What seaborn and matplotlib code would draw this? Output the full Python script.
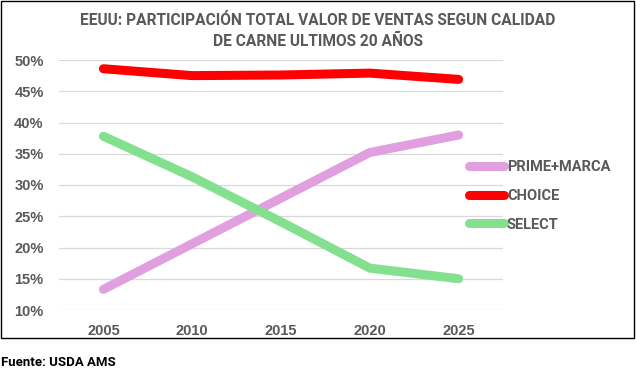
import pandas as pd
import seaborn as sns
import matplotlib.pyplot as plt
from matplotlib.patches import Rectangle

years = ['2005', '2010', '2015', '2020', '2025']
prime = [13.3, 20.6, 27.9, 35.2, 38.0]
choice = [48.6, 47.5, 47.6, 47.9, 46.9]
select = [37.8, 31.3, 24.1, 16.7, 15.0]
series = ['PRIME+MARCA', 'CHOICE', 'SELECT']
colors = ['#E19FE0', '#FF0000', '#82E08E']

df = pd.DataFrame({
    'year': years * 3,
    'value': prime + choice + select,
    'serie': [s for s in series for _ in years],
})

sns.set_theme(style="white")
plt.rcParams['font.family'] = ['Roboto', 'DejaVu Sans']
grey = '#595959'

fig = plt.figure(figsize=(6.36, 3.68), dpi=100)
ax = fig.add_axes([59/636, 1-310/368, (503-59)/636, 250/368])
sns.lineplot(data=df, x='year', y='value', hue='serie', palette=colors, hue_order=series,
             linewidth=6.5, solid_capstyle='round', ax=ax, legend=False, sort=False)

ax.set_xlim(-0.5, 4.5)
ax.set_ylim(10, 50)
ax.set_yticks(range(10, 51, 5))
ax.set_yticklabels([f'{v}%' for v in range(10, 51, 5)])
ax.yaxis.grid(True, color='#D9D9D9', linewidth=0.9)
ax.set_axisbelow(True)
for s in ax.spines.values():
    s.set_visible(False)
ax.tick_params(axis='both', length=0, labelsize=10.5, labelcolor=grey)
ax.tick_params(axis='y', pad=11)
ax.tick_params(axis='x', pad=10)
for lab in ax.get_xticklabels() + ax.get_yticklabels():
    lab.set_fontweight('bold')
    lab.set_family(['Liberation Sans', 'DejaVu Sans'])
ax.set_xlabel('')
ax.set_ylabel('')

handles = [plt.Line2D([], [], color=c, linewidth=6.5, solid_capstyle='round') for c in colors]
leg = fig.legend(handles, series, loc='center left', bbox_to_anchor=(469/636, 1-196/368),
                 frameon=False, handlelength=2.4, handletextpad=0.2, labelspacing=1.0,
                 borderpad=0, borderaxespad=0,
                 prop={'weight': 'bold', 'size': 10.5})
for t in leg.get_texts():
    t.set_color(grey)

fig.text(0.5, 1-31/368, 'EEUU: PARTICIPACIÓN TOTAL VALOR DE VENTAS SEGUN CALIDAD\nDE CARNE ULTIMOS 20 AÑOS',
         ha='center', va='center', fontsize=11.2, fontweight='bold', color=grey, linespacing=1.45)

fig.patches.append(Rectangle((0.5/636, 1-338/368), 633/636, 337.5/368, transform=fig.transFigure,
                             fill=False, edgecolor='black', linewidth=1))
fig.text(1/636, 1-362/368, 'Fuente: USDA AMS', ha='left', va='center', fontsize=9.5,
         fontweight='bold', color='black')

fig.savefig('out.png', dpi=100)
